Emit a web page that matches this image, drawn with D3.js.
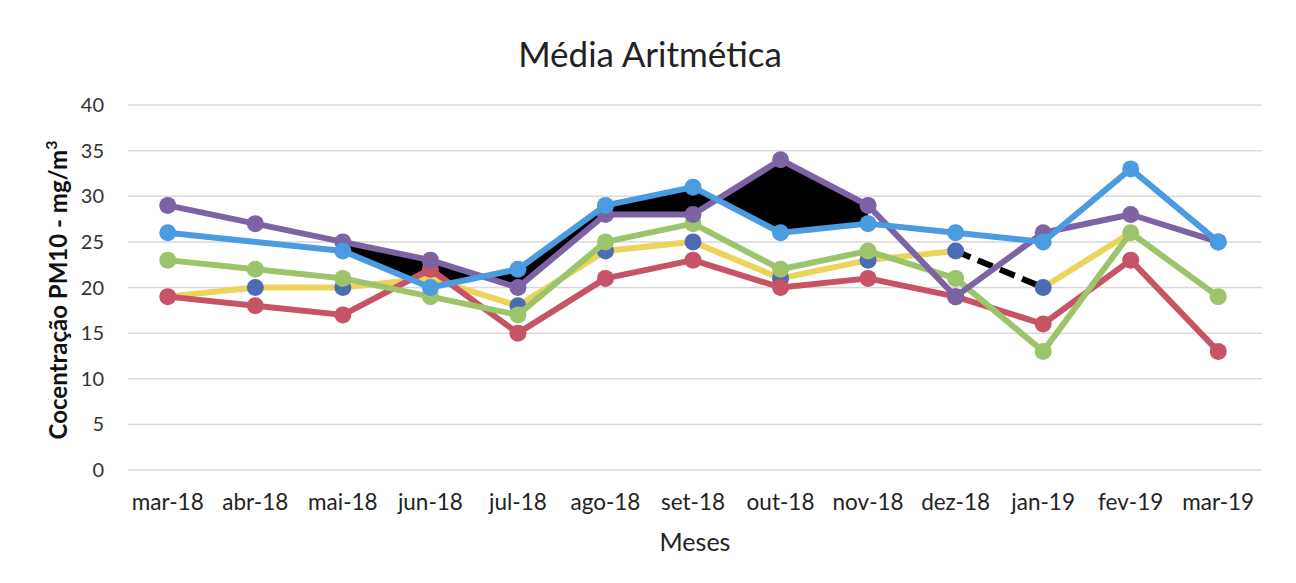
<!DOCTYPE html>
<html>
<head>
<meta charset="utf-8">
<script src="https://cdn.jsdelivr.net/npm/d3@7"></script>
<style>
  body { margin: 0; background: #fff; }
  text { font-family: Lato, "Open Sans", sans-serif; }
</style>
</head>
<body>
<div id="chart"></div>
<script>
// Data
var months = ["mar-18", "abr-18", "mai-18", "jun-18", "jul-18", "ago-18", "set-18",
              "out-18", "nov-18", "dez-18", "jan-19", "fev-19", "mar-19"];
var yTicks = [0, 5, 10, 15, 20, 25, 30, 35, 40];

var serieAmarela = [19, 20, 20, 21, 18, 24, 25, 21, 23, 24, 20, 26, null];
var serieVermelha = [19, 18, 17, 22, 15, 21, 23, 20, 21, 19, 16, 23, 13];
var serieVerde = [23, 22, 21, 19, 17, 25, 27, 22, 24, 21, 13, 26, 19];
var serieRoxa = [29, 27, 25, 23, 20, 28, 28, 34, 29, 19, 26, 28, 25];
var serieAzul = [26, null, 24, 20, 22, 29, 31, 26, 27, 26, 25, 33, 25];

// dark markers shown on the yellow line (visible ones in the scan)
var marcadoresEscuros = [null, 20, 20, null, 18, 24, 25, 21, 23, 24, 20, null, null];

// Constants
var width = 1296;
var height = 583;
var plotLeft = 124, plotRight = 1262, plotTop = 105, plotBottom = 470;

var svg = d3.select("#chart")
  .append("svg")
    .attr("width", width)
    .attr("height", height);

var x = d3.scaleBand()
  .domain(months)
  .range([plotLeft, plotRight]);

var y = d3.scaleLinear()
  .domain([0, 40])
  .range([plotBottom, plotTop]);

function cx(i) { return x(months[i]) + x.bandwidth() / 2; }

// Gridlines
svg.append("g")
  .selectAll("line")
  .data(yTicks)
  .enter().append("line")
    .attr("x1", plotLeft + 4)
    .attr("x2", plotRight)
    .attr("y1", function(d) { return y(d); })
    .attr("y2", function(d) { return y(d); })
    .attr("stroke", "#d9d9d9")
    .attr("stroke-width", 1.5);

// Y tick labels
svg.append("g")
  .selectAll("text")
  .data(yTicks)
  .enter().append("text")
    .attr("x", 104)
    .attr("y", function(d) { return y(d); })
    .attr("dy", "0.35em")
    .attr("text-anchor", "end")
    .attr("font-size", 20)
    .attr("fill", "#333")
    .text(function(d) { return d; });

// X tick labels
svg.append("g")
  .selectAll("text")
  .data(months)
  .enter().append("text")
    .attr("x", function(d) { return x(d) + x.bandwidth() / 2; })
    .attr("y", 510)
    .attr("text-anchor", "middle")
    .attr("font-size", 22.5)
    .attr("fill", "#222")
    .text(function(d) { return d; });

// Title and axis titles
svg.append("text")
  .attr("x", 650)
  .attr("y", 67)
  .attr("text-anchor", "middle")
  .attr("font-size", 35)
  .attr("fill", "#222")
  .text("Média Aritmética");

svg.append("text")
  .attr("x", 695)
  .attr("y", 551)
  .attr("text-anchor", "middle")
  .attr("font-size", 25)
  .attr("fill", "#222")
  .text("Meses");

var ylab = svg.append("text")
  .attr("transform", "translate(67,290) rotate(-90)")
  .attr("text-anchor", "middle")
  .attr("font-size", 24)
  .attr("font-weight", "bold")
  .attr("fill", "#111");
ylab.append("tspan").text("Cocentração PM10 - mg/m");
ylab.append("tspan").attr("dy", -10).attr("font-size", 16).text("3");

// Black fill between purple and blue (mai-18 .. nov-18)
var fillIdx = d3.range(2, 9);
var area = d3.area()
  .x(function(i) { return cx(i); })
  .y0(function(i) { return y(serieAzul[i]); })
  .y1(function(i) { return y(serieRoxa[i]); });
svg.append("path")
  .datum(fillIdx)
  .attr("d", area)
  .attr("fill", "#000");

// Series
var series = [
  { vals: serieAmarela, color: "#ecd35a", marker: null },
  { vals: serieVermelha, color: "#c65366", marker: "#c65366" },
  { vals: serieVerde, color: "#9cc46a", marker: "#9cc46a" },
  { vals: serieRoxa, color: "#7d62a4", marker: "#7d62a4" },
  { vals: serieAzul, color: "#4a9be0", marker: "#4a9be0" }
];

var line = d3.line()
  .x(function(d) { return cx(d.i); })
  .y(function(d) { return y(d.v); });

function pts(vals) {
  return vals.map(function(v, i) { return { i: i, v: v }; })
    .filter(function(d) { return d.v !== null; });
}

// yellow line, with the dez-18 -> jan-19 piece drawn dark dashed
var amarelo = pts(serieAmarela);
svg.append("path")
  .datum(amarelo.filter(function(d) { return d.i <= 9; }))
  .attr("d", line)
  .attr("fill", "none")
  .attr("stroke", series[0].color)
  .attr("stroke-width", 6);
svg.append("path")
  .datum(amarelo.filter(function(d) { return d.i >= 10; }))
  .attr("d", line)
  .attr("fill", "none")
  .attr("stroke", series[0].color)
  .attr("stroke-width", 6);
svg.append("path")
  .datum(amarelo.filter(function(d) { return d.i === 9 || d.i === 10; }))
  .attr("d", line)
  .attr("fill", "none")
  .attr("stroke", "#000")
  .attr("stroke-dasharray", "16,8")
  .attr("stroke-width", 6);

svg.append("g")
  .selectAll("circle")
  .data(pts(marcadoresEscuros))
  .enter().append("circle")
    .attr("cx", function(d) { return cx(d.i); })
    .attr("cy", function(d) { return y(d.v); })
    .attr("r", 8.5)
    .attr("fill", "#4d6bb3");

series.slice(1).forEach(function(s) {
  var p = pts(s.vals);
  svg.append("path")
    .datum(p)
    .attr("d", line)
    .attr("fill", "none")
    .attr("stroke", s.color)
    .attr("stroke-width", 6)
    .attr("stroke-linejoin", "round");
  svg.append("g")
    .selectAll("circle")
    .data(p)
    .enter().append("circle")
      .attr("cx", function(d) { return cx(d.i); })
      .attr("cy", function(d) { return y(d.v); })
      .attr("r", 8.5)
      .attr("fill", s.marker);
});
</script>
</body>
</html>
